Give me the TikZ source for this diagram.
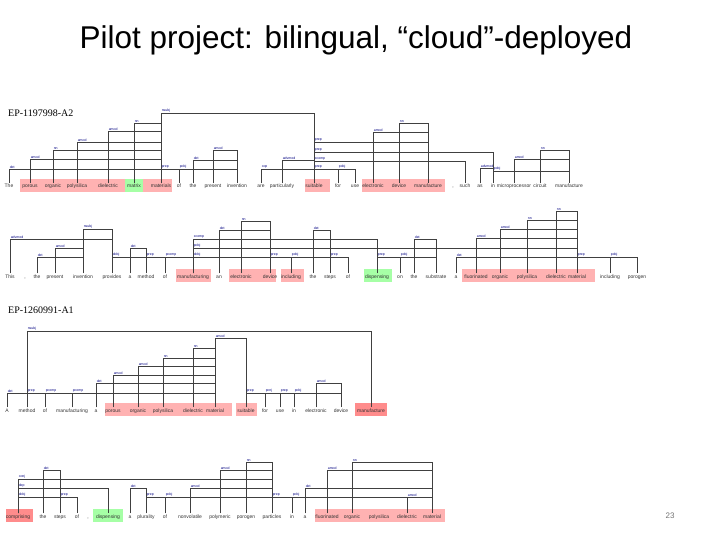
\documentclass[tikz,border=0pt]{standalone}
\usepackage{fontspec}
\setmainfont{Liberation Sans}
\newfontfamily\serifx{Liberation Serif}
\begin{document}
\begin{tikzpicture}[x=1pt,y=-1pt,
 tok/.style={inner sep=0.5pt,font=\fontsize{5}{5}\selectfont,text=black!80,text height=4pt,text depth=1pt,anchor=base},
 arc/.style={draw=black!75,line width=0.5pt},
 lab/.style={font=\fontsize{3.5}{3.5}\selectfont,text=blue!50!black,inner sep=0.6pt,anchor=south west},
 redbg/.style={fill=red!30,draw=none},
 grnbg/.style={fill=green!35,draw=none}]
\useasboundingbox (0,0) rectangle (720,540);
\newcommand\dep[4]{\draw[arc] (#1.north) -- (#1.north |- 0,#3) -| (#2.north); \node[lab] at (#1.north |- 0,#3) {#4};}
\node (title) at (356,40) {\fontsize{31.5}{31.5}\selectfont Pilot project: bilingual, “cloud”-deployed};
\node[anchor=west,inner sep=0] (h1) at (8,113) {\serifx\fontsize{10}{10}\selectfont EP-1197998-A2};
\node[anchor=west,inner sep=0] (h2) at (8,310) {\serifx\fontsize{10}{10}\selectfont EP-1260991-A1};
\node[text=black!55,font=\fontsize{8}{8}\selectfont] (pg) at (670,516) {23};
% backgrounds
\fill[redbg] (20,179) rectangle (172,192);
\fill[grnbg] (125,179) rectangle (143,192);
\fill[redbg] (305,179) rectangle (330,192);
\fill[redbg] (362,179) rectangle (445,192);
\fill[redbg] (176,269) rectangle (211,282);
\fill[redbg] (229,269) rectangle (276,282);
\fill[redbg] (281,269) rectangle (304,282);
\fill[grnbg] (364,269) rectangle (392,282);
\fill[redbg] (462,269) rectangle (595,282);
\fill[redbg] (105,403) rectangle (232,416);
\fill[redbg] (236,403) rectangle (257,416);
\fill[red!45] (355,403) rectangle (387,416);
\fill[red!45] (6,509) rectangle (33,522);
\fill[grnbg] (93,509) rectangle (123,522);
\fill[redbg] (315,509) rectangle (445,522);
% row 1
\foreach \x/\w [count=\i] in {9/The,30/porous,53/organic,77/polysilica,108/dielectric,134/matrix,161/materials,179/of,193/the,213/present,237/invention,261/are,282/particularly,314/suitable,338/for,355/use,373/electronic,399/device,428/manufacture,453/{,},465/such,480/as,493/in,514/microprocessor,540/circuit,569/manufacture}
  \node[tok] (a\i) at (\x,188) {\w};
\dep{a1}{a7}{169}{det}\dep{a2}{a7}{159}{amod}\dep{a3}{a7}{150}{nn}\dep{a4}{a7}{142}{amod}
\dep{a5}{a7}{131}{amod}\dep{a6}{a7}{123}{nn}\dep{a7}{a14}{113}{nsubj}
\dep{a7}{a8}{169}{prep}\dep{a8}{a11}{169}{pobj}\dep{a9}{a11}{160}{det}\dep{a10}{a11}{150}{amod}
\dep{a12}{a14}{169}{cop}\dep{a13}{a14}{160}{advmod}\dep{a14}{a15}{169}{prep}\dep{a15}{a16}{169}{pobj}
\dep{a14}{a23}{152}{prep}\dep{a14}{a21}{161}{xcomp}\dep{a14}{a19}{142}{prep}
\dep{a17}{a19}{132}{amod}\dep{a18}{a19}{123}{nn}\dep{a22}{a23}{168}{advmod}
\dep{a23}{a26}{171}{pobj}\dep{a24}{a26}{159}{amod}\dep{a25}{a26}{150}{nn}
% row 2
\foreach \x/\w [count=\i] in {10/This,25/{,},37/the,55/present,83/invention,112/provides,130/a,146/method,165/of,193/manufacturing,219/an,241/electronic,270/device,291/including,313/the,330/steps,348/of,377/dispensing,400/on,414/the,436/substrate,456/a,476/fluorinated,500/organic,527/polysilica,556/dielectric,577/material,610/including,637/porogen}
  \node[tok] (b\i) at (\x,278) {\w};
\dep{b1}{b6}{239}{advmod}\dep{b3}{b5}{257}{det}\dep{b4}{b5}{248}{amod}\dep{b5}{b6}{229}{nsubj}
\dep{b6}{b8}{257}{dobj}\dep{b7}{b8}{248}{det}\dep{b8}{b9}{257}{prep}\dep{b9}{b10}{257}{pcomp}
\dep{b11}{b13}{230}{det}\dep{b12}{b13}{221}{nn}\dep{b10}{b13}{257}{dobj}\dep{b13}{b14}{257}{prep}
\dep{b14}{b16}{257}{pobj}\dep{b15}{b16}{230}{det}\dep{b16}{b17}{257}{prep}
\dep{b10}{b18}{239}{xcomp}\dep{b10}{b27}{248}{pobj}\dep{b18}{b19}{257}{prep}\dep{b19}{b21}{257}{pobj}
\dep{b20}{b21}{239}{det}\dep{b22}{b27}{257}{det}\dep{b23}{b27}{238}{amod}\dep{b24}{b27}{229}{amod}
\dep{b25}{b27}{220}{nn}\dep{b26}{b27}{211}{nn}\dep{b27}{b28}{257}{prep}\dep{b28}{b29}{257}{pobj}
% row 3
\foreach \x/\w [count=\i] in {7/A,27/method,45/of,72/manufacturing,96/a,113/porous,138/organic,163/polysilica,193/dielectric,215/material,246/suitable,265/for,280/use,294/in,316/electronic,341/device,371/manufacture}
  \node[tok] (c\i) at (\x,412) {\w};
\dep{c1}{c2}{393}{det}\dep{c2}{c3}{393}{prep}\dep{c3}{c4}{393}{pcomp}\dep{c4}{c10}{393}{pcomp}
\dep{c5}{c10}{383}{det}\dep{c6}{c10}{375}{amod}\dep{c7}{c10}{366}{amod}\dep{c8}{c10}{358}{nn}
\dep{c9}{c10}{348}{nn}\dep{c10}{c11}{338}{amod}\dep{c11}{c12}{393}{prep}\dep{c12}{c13}{393}{pcnj}
\dep{c13}{c14}{393}{prep}\dep{c14}{c16}{393}{pobj}\dep{c15}{c16}{383}{amod}\dep{c2}{c17}{331}{nsubj}
% row 4
\foreach \x/\w [count=\i] in {18/comprising,43/the,60/steps,77/of,88/{,},108/dispensing,130/a,146/plurality,165/of,190/nonvolatile,220/polymeric,246/porogen,272/particles,292/in,305/a,327/fluorinated,352/organic,379/polysilica,407/dielectric,432/material}
  \node[tok] (d\i) at (\x,518) {\w};
\dep{d2}{d3}{470}{det}\dep{d1}{d3}{497}{dobj}\dep{d3}{d4}{497}{prep}\dep{d1}{d6}{488}{dep}
\dep{d1}{d13}{479}{conj}\dep{d7}{d8}{488}{det}\dep{d8}{d9}{497}{prep}\dep{d9}{d13}{497}{pobj}
\dep{d10}{d13}{488}{amod}\dep{d11}{d13}{470}{amod}\dep{d12}{d13}{462}{nn}\dep{d13}{d14}{497}{prep}
\dep{d14}{d20}{497}{pobj}\dep{d15}{d20}{488}{det}\dep{d16}{d20}{470}{amod}\dep{d17}{d20}{462}{nn}
\dep{d19}{d20}{497}{amod}
\end{tikzpicture}
\end{document}
